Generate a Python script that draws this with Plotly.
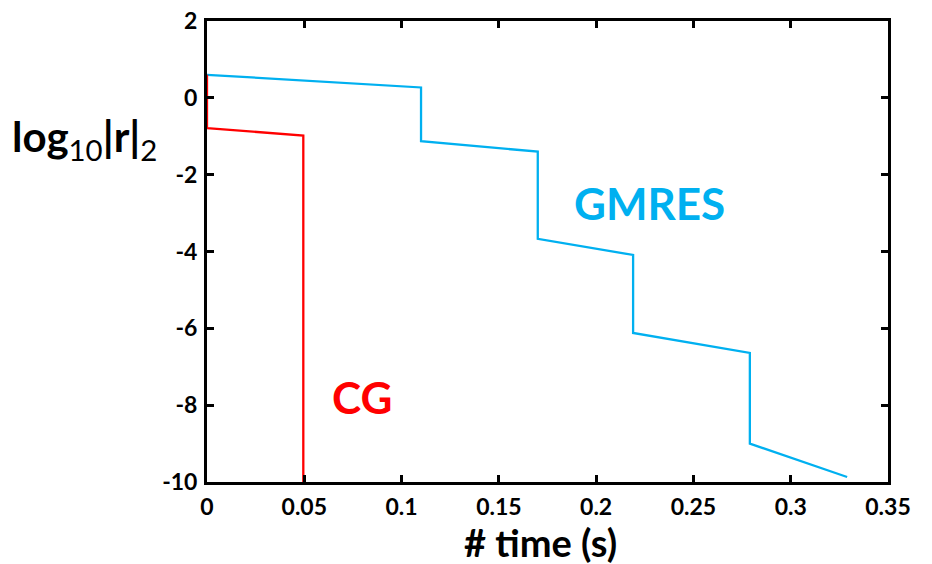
import plotly.graph_objects as go

cg_t = [0.0, 0.0, 0.0495, 0.0495]
cg_r = [0.6, -0.79, -0.98, -10.0]

gm_t = [0.0, 0.110, 0.110, 0.170, 0.170, 0.219, 0.219, 0.279, 0.279, 0.329]
gm_r = [0.6, 0.27, -1.13, -1.40, -3.67, -4.09, -6.12, -6.64, -9.0, -9.87]

x_ticks = [0, 0.05, 0.1, 0.15, 0.2, 0.25, 0.3, 0.35]
x_labels = ["0", "0.05", "0.1", "0.15", "0.2", "0.25", "0.3", "0.35"]
y_ticks = [2, 0, -2, -4, -6, -8, -10]

RED = "#FF0000"
BLUE = "#00B0F0"
FONT = "Lato"

fig = go.Figure()
fig.add_trace(go.Scatter(x=gm_t, y=gm_r, mode="lines", line=dict(color=BLUE, width=2.3), showlegend=False))
fig.add_trace(go.Scatter(x=cg_t, y=cg_r, mode="lines", line=dict(color=RED, width=2.3), showlegend=False))

axis_common = dict(showgrid=False, zeroline=False, showline=True, linecolor="black", linewidth=3,
                   mirror="ticks", ticks="inside", ticklen=7, tickwidth=2.5, tickcolor="black",
                   automargin=False,
                   tickfont=dict(family=FONT, size=23, color="black", weight="bold"))

fig.update_xaxes(range=[0, 0.35], tickvals=x_ticks, ticktext=x_labels, ticklabelstandoff=2,
                 **axis_common)
fig.update_yaxes(range=[-10, 2], tickvals=y_ticks, ticktext=[str(v) for v in y_ticks], ticklabelstandoff=2,
                 **axis_common)

fig.add_annotation(text="# time (s)", xref="paper", yref="paper", x=0.489, y=-0.13,
                   xanchor="center", yanchor="middle", showarrow=False,
                   font=dict(family=FONT, size=38, color="black", weight="bold"))
fig.add_annotation(text="log<span style='font-weight:normal'><sub>10</sub></span>|r|<span style='font-weight:normal'><sub>2</sub></span>",
                   xref="paper", yref="paper", x=-0.29, y=0.745,
                   xanchor="left", yanchor="middle", showarrow=False,
                   font=dict(family=FONT, size=42, color="black", weight="bold"))
fig.add_annotation(text="GMRES", x=0.2275, y=-2.75, showarrow=False,
                   font=dict(family=FONT, size=44, color=BLUE, weight="bold"))
fig.add_annotation(text="CG", x=0.0795, y=-7.8, showarrow=False,
                   font=dict(family=FONT, size=44, color=RED, weight="bold"))

fig.update_layout(width=932, height=564, margin=dict(l=207, r=44, t=21, b=82),
                  plot_bgcolor="white", paper_bgcolor="white")

fig.write_html("out.html")
